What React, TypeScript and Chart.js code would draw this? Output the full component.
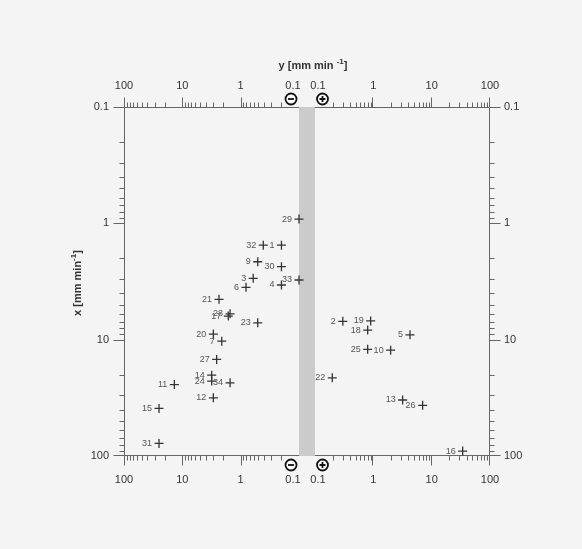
import React, { useEffect, useRef } from 'react';
import { Chart, registerables } from 'chart.js';
Chart.register(...registerables);

// Sample ids, y rate (signed: negative = left half, positive = right half), x rate
const pointIds = [1, 2, 3, 4, 5, 6, 7, 9, 10, 11, 12, 13, 14, 15, 16, 17, 18, 19, 20, 21, 22, 23, 24, 25, 26, 27, 28, 29, 30, 31, 32, 33, 34];
const yRates = [-0.2, 0.3, -0.61, -0.2, 4.25, -0.81, -2.11, -0.51, 1.98, -13.7, -2.94, 3.18, -3.14, -25.1, 34.0, -1.63, 0.8, 0.9, -2.94, -2.35, 0.198, -0.51, -3.14, 0.8, 7.0, -2.58, -1.52, -0.1, -0.2, -25.1, -0.41, -0.1, -1.52];
const xRates = [1.54, 6.96, 2.97, 3.39, 9.08, 3.55, 10.3, 2.14, 12.3, 24.3, 31.6, 33.0, 20.2, 39.0, 90.8, 6.27, 8.27, 6.9, 8.95, 4.5, 21.3, 7.16, 22.7, 12.1, 36.7, 14.8, 6.0, 0.92, 2.36, 78, 1.54, 3.07, 23.5];

const majorTicks = [0.1, 1, 10, 100];
const majorLabels = ['0.1', '1', '10', '100'];
const minorMultipliers = [2, 3, 4, 5, 6, 7, 8, 9];
const minorDecades = [0.1, 1, 10];

const GAP = 0.137; // half-width of the central band, in decades
const FONT = '"Liberation Sans", Arial, sans-serif';

function splitLog(v: number): number {
  const s = Math.sign(v);
  return s * (Math.log10(Math.abs(v)) + 1 + GAP);
}

function drawTitle(ctx: CanvasRenderingContext2D, cx: number, cy: number, label: string) {
  const main = 'bold 11px ' + FONT;
  const sup = 'bold 8px ' + FONT;
  ctx.font = main;
  const w1 = ctx.measureText(label).width;
  ctx.font = sup;
  const w2 = ctx.measureText('-1').width;
  ctx.font = main;
  const w3 = ctx.measureText(']').width;
  const total = w1 + w2 + w3;
  let x0 = cx - total / 2;
  ctx.textAlign = 'left';
  ctx.textBaseline = 'middle';
  ctx.fillStyle = '#333';
  ctx.font = main;
  ctx.fillText(label, x0, cy);
  ctx.font = sup;
  ctx.fillText('-1', x0 + w1, cy - 4);
  ctx.font = main;
  ctx.fillText(']', x0 + w1 + w2, cy);
}

function drawSign(ctx: CanvasRenderingContext2D, cx: number, cy: number, plus: boolean) {
  ctx.beginPath();
  ctx.arc(cx, cy, 5.5, 0, Math.PI * 2);
  ctx.fillStyle = '#fff';
  ctx.fill();
  ctx.lineWidth = 1.8;
  ctx.strokeStyle = '#111';
  ctx.stroke();
  ctx.lineWidth = 1.8;
  ctx.beginPath();
  ctx.moveTo(cx - 3, cy);
  ctx.lineTo(cx + 3, cy);
  if (plus) {
    ctx.moveTo(cx, cy - 3);
    ctx.lineTo(cx, cy + 3);
  }
  ctx.stroke();
}

const axesPlugin = {
  id: 'splitAxes',
  beforeDatasetsDraw(chart: any) {
    const { ctx, chartArea, scales } = chart;
    const { left, right, top, bottom } = chartArea;
    const x = scales.x;
    const y = scales.y;
    ctx.save();
    const b0 = x.getPixelForValue(-GAP);
    const b1 = x.getPixelForValue(GAP);
    ctx.fillStyle = '#cbcbcb';
    ctx.fillRect(b0, top, b1 - b0, bottom - top);

    ctx.strokeStyle = '#666';
    ctx.lineWidth = 1;
    const L = Math.round(left) + 0.5, R = Math.round(right) - 0.5;
    const T = Math.round(top) + 0.5, B = Math.round(bottom) - 0.5;
    ctx.beginPath();
    ctx.moveTo(L, T); ctx.lineTo(b0, T);
    ctx.moveTo(b1, T); ctx.lineTo(R, T);
    ctx.moveTo(L, B); ctx.lineTo(b0, B);
    ctx.moveTo(b1, B); ctx.lineTo(R, B);
    ctx.moveTo(L, T); ctx.lineTo(L, B);
    ctx.moveTo(R, T); ctx.lineTo(R, B);
    ctx.stroke();

    // x ticks (both halves)
    ctx.beginPath();
    for (const s of [-1, 1]) {
      majorTicks.forEach((v) => {
        if (v === 0.1) return;
        const px = Math.round(x.getPixelForValue(splitLog(s * v))) + (s < 0 ? 0.5 : -0.5);
        ctx.moveTo(px, T); ctx.lineTo(px, T - 10);
        ctx.moveTo(px, B); ctx.lineTo(px, B + 10);
      });
      minorDecades.forEach((d) => {
        minorMultipliers.forEach((m) => {
          const px = Math.round(x.getPixelForValue(splitLog(s * m * d))) + 0.5;
          ctx.moveTo(px, T); ctx.lineTo(px, T - 5);
          ctx.moveTo(px, B); ctx.lineTo(px, B + 5);
        });
      });
    }
    // y ticks
    majorTicks.forEach((v) => {
      const py = Math.round(y.getPixelForValue(v)) + (v === 100 ? -0.5 : 0.5);
      ctx.moveTo(L, py); ctx.lineTo(L - 11, py);
      ctx.moveTo(R, py); ctx.lineTo(R + 11, py);
    });
    minorDecades.forEach((d) => {
      minorMultipliers.forEach((m) => {
        const py = Math.round(y.getPixelForValue(m * d)) + 0.5;
        ctx.moveTo(L, py); ctx.lineTo(L - 5, py);
        ctx.moveTo(R, py); ctx.lineTo(R + 5, py);
      });
    });
    ctx.stroke();

    // tick labels
    ctx.fillStyle = '#333';
    ctx.font = '11px ' + FONT;
    ctx.textBaseline = 'middle';
    ctx.textAlign = 'center';
    for (const s of [-1, 1]) {
      majorTicks.forEach((v, i) => {
        let px = x.getPixelForValue(splitLog(s * v));
        if (v === 0.1) px += s < 0 ? -6 : 3;
        ctx.fillText(majorLabels[i], px, top - 21);
        ctx.fillText(majorLabels[i], px, bottom + 24);
      });
    }
    majorTicks.forEach((v, i) => {
      const py = y.getPixelForValue(v);
      ctx.textAlign = 'right';
      ctx.fillText(majorLabels[i], left - 15, py);
      ctx.textAlign = 'left';
      ctx.fillText(majorLabels[i], right + 14, py);
    });

    // titles
    drawTitle(ctx, 313, top - 41, 'y [mm min ');
    ctx.save();
    ctx.translate(78, 283);
    ctx.rotate(-Math.PI / 2);
    drawTitle(ctx, 0, 0, 'x [mm min');
    ctx.restore();

    // sign markers
    drawSign(ctx, b0 - 8, top - 8, false);
    drawSign(ctx, b1 + 7.5, top - 8, true);
    drawSign(ctx, b0 - 8, bottom + 9, false);
    drawSign(ctx, b1 + 7.5, bottom + 9, true);
    ctx.restore();
  },
  afterDatasetsDraw(chart: any) {
    const { ctx } = chart;
    const meta = chart.getDatasetMeta(0);
    ctx.save();
    ctx.font = '9px ' + FONT;
    ctx.fillStyle = '#555';
    ctx.textAlign = 'right';
    ctx.textBaseline = 'middle';
    meta.data.forEach((el: any, i: number) => {
      ctx.fillText(String(pointIds[i]), el.x - 7, el.y);
    });
    ctx.restore();
  },
};

export default function App() {
  const ref = useRef<HTMLCanvasElement>(null);
  useEffect(() => {
    document.body.style.margin = '0';
    document.body.style.background = '#f4f4f4';
    const canvas = ref.current!;
    const chart = new Chart(canvas, {
      type: 'scatter',
      data: {
        datasets: [
          {
            data: pointIds.map((_, i) => ({ x: splitLog(yRates[i]), y: xRates[i] })),
            pointStyle: 'cross',
            radius: 4.5,
            borderColor: '#333',
            borderWidth: 1.3,
            backgroundColor: '#333',
            clip: false as any,
          },
        ],
      },
      options: {
        animation: false,
        responsive: false,
        layout: { padding: { left: 124, right: 92, top: 107, bottom: 93 } },
        plugins: { legend: { display: false }, tooltip: { enabled: false } },
        scales: {
          x: { type: 'linear', min: -(3 + GAP), max: 3 + GAP, display: false },
          y: { type: 'logarithmic', min: 0.1, max: 100, reverse: true, display: false },
        },
      },
      plugins: [axesPlugin],
    });
    return () => chart.destroy();
  }, []);
  return (
    <div style={{ width: 582, height: 549, background: '#f4f4f4' }}>
      <canvas ref={ref} width={582} height={549} style={{ display: 'block' }} />
    </div>
  );
}
